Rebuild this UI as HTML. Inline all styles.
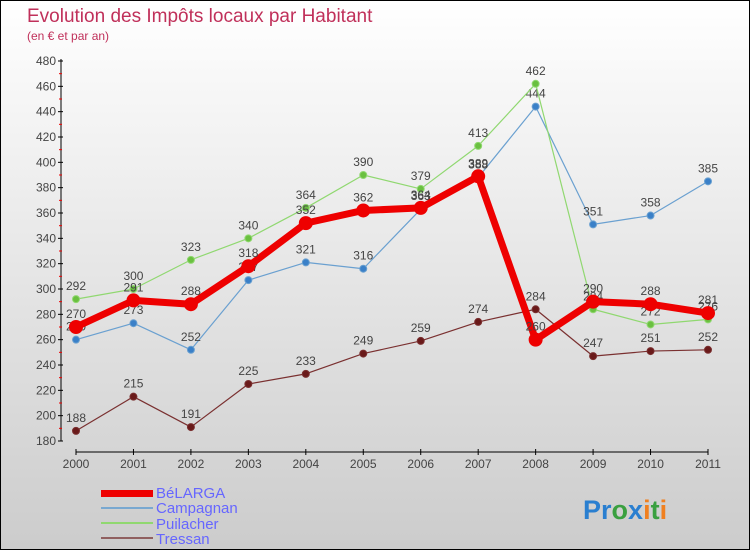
<!DOCTYPE html>
<html><head><meta charset="utf-8"><style>
body{margin:0}
#c{width:748px;height:548px;border:1px solid #000;background:linear-gradient(#fff,#ccc);position:relative;overflow:hidden;font-family:"Liberation Sans",sans-serif}
</style></head><body>
<div id="c">
<svg id="s" width="748" height="548" xmlns="http://www.w3.org/2000/svg">
<text x="26" y="21" font-size="19" fill="#c0305a">Evolution des Impôts locaux par Habitant</text>
<text x="26" y="39" font-size="12" fill="#c0305a">(en € et par an)</text>
<g id="axes"></g><g id="series"></g>
<g>
<rect x="100" y="489" width="52" height="7" fill="#e00"/>
<text x="155" y="497" font-size="15" fill="#66f">BéLARGA</text>
<line x1="100" y1="507" x2="152" y2="507" stroke="#79a8d0" stroke-width="2"/>
<text x="155" y="512" font-size="15" fill="#66f">Campagnan</text>
<line x1="100" y1="522" x2="152" y2="522" stroke="#90d870" stroke-width="2"/>
<text x="155" y="528" font-size="15" fill="#66f">Puilacher</text>
<line x1="100" y1="537" x2="152" y2="537" stroke="#906060" stroke-width="2"/>
<text x="155" y="543" font-size="15" fill="#66f">Tressan</text>
</g>
<text x="582" y="518" font-size="27" font-weight="bold"><tspan fill="#2a7fd0">Pr</tspan><tspan fill="#3aa040">o</tspan><tspan fill="#2a7fd0">x</tspan><tspan fill="#f08020">i</tspan><tspan fill="#3aa040">t</tspan><tspan fill="#f08020">i</tspan></text>
</svg>
</div>
<script>
const years=[2000,2001,2002,2003,2004,2005,2006,2007,2008,2009,2010,2011];
const yTicks=[180,200,220,240,260,280,300,320,340,360,380,400,420,440,460,480];
const belarga=[270,291,288,318,352,362,364,389,260,290,288,281];
const campagnan=[260,273,252,307,321,316,363,388,444,351,358,385];
const puilacher=[292,300,323,340,364,390,379,413,462,284,272,276];
const tressan=[188,215,191,225,233,249,259,274,284,247,251,252];
const NS="http://www.w3.org/2000/svg";
function X(i){return 75+i*(707-75)/11;}
function Y(v){return 440-(v-180)*(440-60)/300;}
function mk(t,a,p){const e=document.createElementNS(NS,t);for(const k in a)e.setAttribute(k,a[k]);p.appendChild(e);return e;}
const ax=document.getElementById('axes');
const yl=mk('line',{x1:60,y1:58,x2:60,y2:440,stroke:'#000'},ax);


const xl=mk('line',{x1:75,y1:451,x2:707,y2:451,stroke:'#000'},ax);


yTicks.forEach(v=>{
 mk('line',{x1:57,y1:Y(v),x2:62,y2:Y(v),stroke:'#000'},ax);
 if(v<480)mk('line',{x1:58,y1:Y(v+10),x2:61,y2:Y(v+10),stroke:'#e00'},ax);
 const t=mk('text',{x:55,y:Y(v)+4,'font-size':12,'text-anchor':'end',fill:'#444'},ax);t.textContent=v;
 
 
});
years.forEach((y,i)=>{
 mk('line',{x1:X(i),y1:448,x2:X(i),y2:454,stroke:'#000'},ax);
 const t=mk('text',{x:X(i),y:467,'font-size':12,'text-anchor':'middle',fill:'#444'},ax);t.textContent=y;
 
 
});
const sg=document.getElementById('series');
function draw(name,data,col,w,r,dot){
 const g=mk('g',{},sg);
 
 
 mk('polyline',{points:data.map((v,i)=>X(i)+','+Y(v)).join(' '),fill:'none',stroke:col,'stroke-width':w,'stroke-linejoin':'round'},g);
 data.forEach((v,i)=>{
  const c=mk('circle',{cx:X(i),cy:Y(v),r:r,fill:dot,stroke:col,'stroke-width':1},g);
  
  
  const t=mk('text',{x:X(i),y:Y(v)-9,'font-size':12,'text-anchor':'middle',fill:'#444'},g);t.textContent=v;
  
  
 });
}
draw('tressan',tressan,'#7a3030',1.2,3.5,'#6a1a1a');
draw('campagnan',campagnan,'#6aa0d0',1.2,3.5,'#3a80c8');
draw('puilacher',puilacher,'#90d870',1.2,3.5,'#6ac040');
draw('belarga',belarga,'#e00',7,6.5,'#e00');
</script>
</body></html>
